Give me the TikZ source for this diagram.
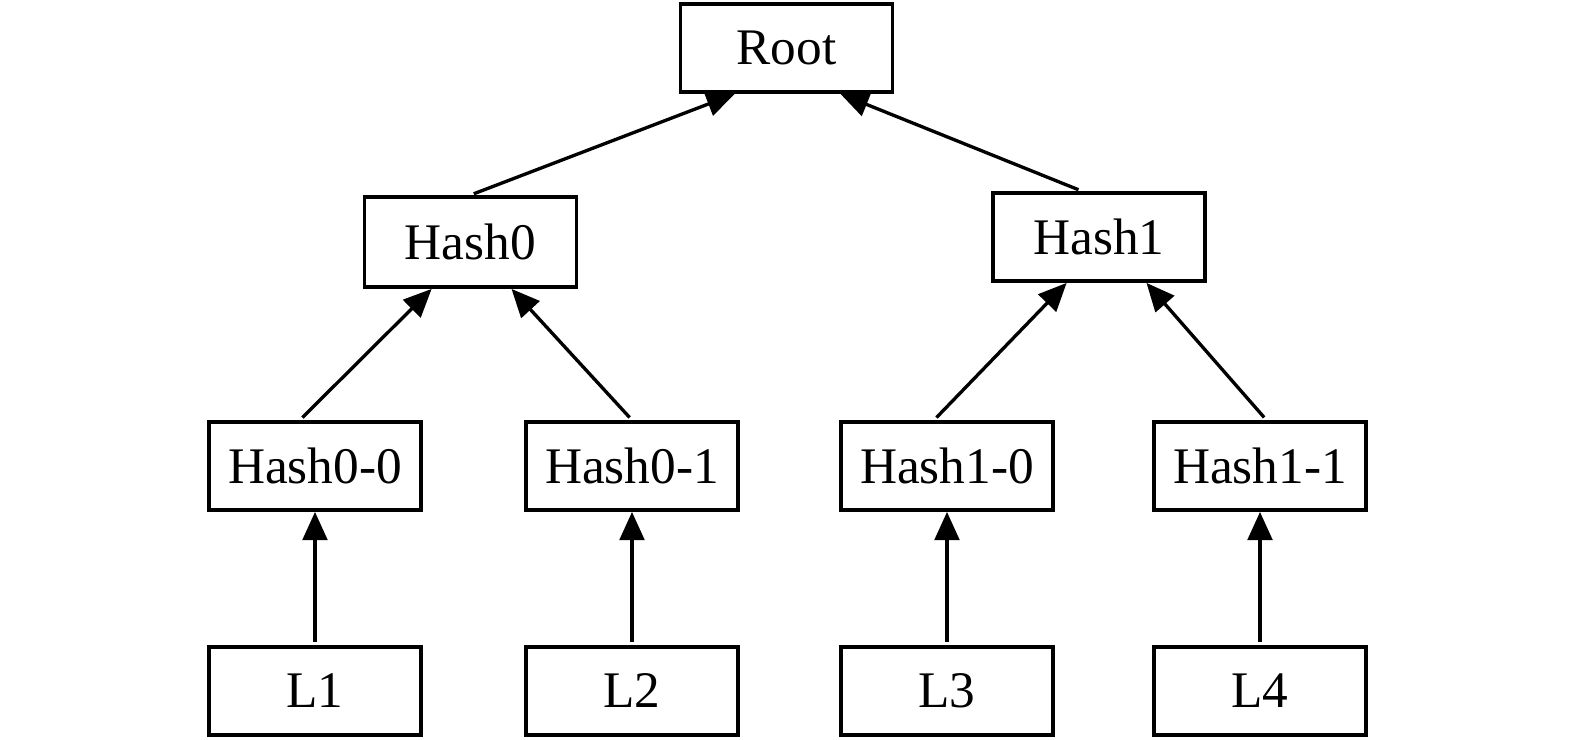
\documentclass[tikz,border=0pt]{standalone}
\usepackage{fontspec}
\setmainfont{Liberation Serif}
\usetikzlibrary{arrows.meta,calc}

\tikzset{
  caixa/.style={draw, line width=1.1pt, minimum width=2.12cm, minimum height=0.88cm,
                inner sep=0pt, font=\fontsize{14.6}{17}\selectfont},
  seta/.style={->, line width=0.95pt, shorten <=1pt}
}

\begin{document}
\begin{tikzpicture}[>={Triangle[length=8pt,width=7pt]}, scale=1.0]

  \useasboundingbox (0,0) rectangle (15.75,-7.40);

  % Alturas das linhas
  \def\yR{-0.48}
  \def\yM{-4.66}
  \def\yL{-6.91}

  % Raiz
  \node[caixa] (root) at (7.865,\yR) {Root};

  % Hashes intermediarios
  \node[caixa, minimum height=0.90cm] (hash0) at (4.705,-2.42) {Hash0};
  \node[caixa] (hash1) at (10.99,-2.37) {Hash1};

  \node[caixa] (hash00) at (3.15,\yM)  {Hash0-0};
  \node[caixa] (hash01) at (6.32,\yM)  {Hash0-1};
  \node[caixa] (hash10) at (9.47,\yM)  {Hash1-0};
  \node[caixa] (hash11) at (12.60,\yM) {Hash1-1};

  % Folhas
  \node[caixa] (l1) at (3.15,\yL)  {L1};
  \node[caixa] (l2) at (6.32,\yL)  {L2};
  \node[caixa] (l3) at (9.47,\yL)  {L3};
  \node[caixa] (l4) at (12.60,\yL) {L4};

  % Setas das folhas
  \draw[seta] (l1) -- (hash00);
  \draw[seta] (l2) -- (hash01);
  \draw[seta] (l3) -- (hash10);
  \draw[seta] (l4) -- (hash11);

  % Setas para Hash0 e Hash1
  \draw[seta] ($(hash00.north west)!0.43!(hash00.north east)$) -- ($(hash0.south west)!0.32!(hash0.south east)$);
  \draw[seta] (hash01.north) -- ($(hash0.south west)!0.69!(hash0.south east)$);
  \draw[seta] ($(hash10.north west)!0.44!(hash10.north east)$) -- ($(hash1.south west)!0.35!(hash1.south east)$);
  \draw[seta] ($(hash11.north west)!0.53!(hash11.north east)$) -- ($(hash1.south west)!0.72!(hash1.south east)$);

  % Setas para a raiz
  \draw[seta] (hash0.north) -- ($(root.south west)!0.26!(root.south east)$);
  \draw[seta] ($(hash1.north west)!0.42!(hash1.north east)$) -- ($(root.south west)!0.75!(root.south east)$);

\end{tikzpicture}
\end{document}
